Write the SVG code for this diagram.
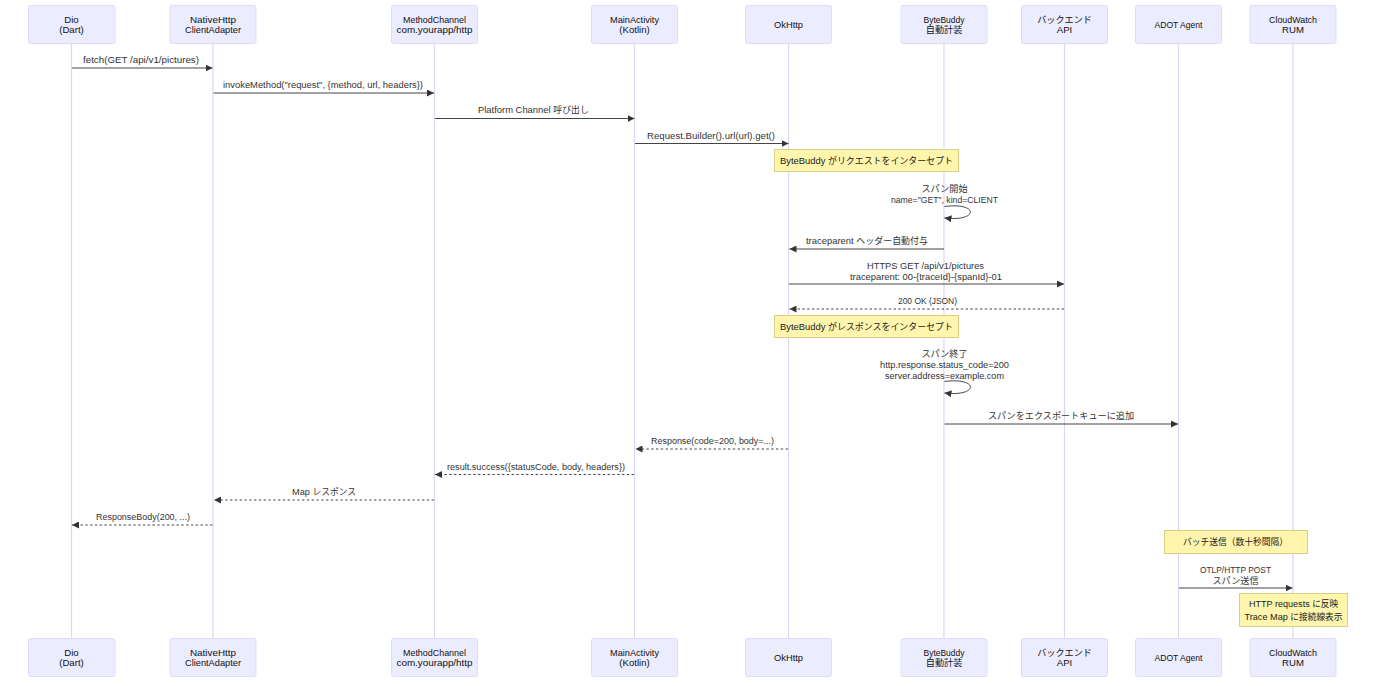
<svg xmlns="http://www.w3.org/2000/svg" width="1384" height="686" viewBox="0 0 1384 686">
<defs>
<marker id="arrow" markerUnits="userSpaceOnUse" markerWidth="8" markerHeight="7" refX="7" refY="3.500" orient="auto"><path d="M0,0L7,3.500L0,7z" fill="#333"/></marker>
</defs>
<style>
text{font-family:"Liberation Sans","Noto Sans CJK JP",sans-serif;font-size:9.6px;text-anchor:middle}
tspan{font-size:9.15px}
.a rect{fill:#ECECFF;stroke:#E0DBF8;stroke-width:1}
.a text{fill:#111}
.l{stroke:#DDD6F7;stroke-width:1.2;fill:none}
.m{stroke:#444;stroke-width:1;fill:none;marker-end:url(#arrow)}
.d{stroke-dasharray:2.4 2.4}
.t{fill:#333}
.n rect{fill:#FFF5AD;stroke:#D6CF85;stroke-width:1}
.n text{fill:#222}
</style>
<g id="lifelines">
<path class="l" d="M71.5 43V638"/><path class="l" d="M213 43V638"/><path class="l" d="M434.500 43V638"/><path class="l" d="M634.500 43V638"/><path class="l" d="M788.500 43V638"/><path class="l" d="M944 43V638"/><path class="l" d="M1064.500 43V638"/><path class="l" d="M1178.500 43V638"/><path class="l" d="M1293 43V638"/>
</g>
<g id="actor-dio" class="a"><rect x="28.500" y="5.500" width="86.500" height="38" rx="2"/><text x="71.500" y="23">Dio</text><text x="71.500" y="33">(Dart)</text></g>
<g id="actor-native" class="a"><rect x="170" y="5.500" width="86" height="38" rx="2"/><text x="213" y="23" textLength="46" lengthAdjust="spacingAndGlyphs">NativeHttp</text><text x="213" y="33" textLength="56" lengthAdjust="spacingAndGlyphs">ClientAdapter</text></g>
<g id="actor-channel" class="a"><rect x="391.500" y="5.500" width="86" height="38" rx="2"/><text x="434.500" y="23" textLength="63" lengthAdjust="spacingAndGlyphs">MethodChannel</text><text x="434.500" y="33" textLength="76" lengthAdjust="spacingAndGlyphs">com.yourapp/http</text></g>
<g id="actor-main" class="a"><rect x="591.500" y="5.500" width="86" height="38" rx="2"/><text x="634.500" y="23" textLength="49" lengthAdjust="spacingAndGlyphs">MainActivity</text><text x="634.500" y="33">(Kotlin)</text></g>
<g id="actor-okhttp" class="a"><rect x="745.500" y="5.500" width="86" height="38" rx="2"/><text x="788.500" y="28" textLength="29" lengthAdjust="spacingAndGlyphs">OkHttp</text></g>
<g id="actor-bytebuddy" class="a"><rect x="901" y="5.500" width="86" height="38" rx="2"/><text x="944" y="23" textLength="41" lengthAdjust="spacingAndGlyphs">ByteBuddy</text><text x="944" y="33"><tspan>自動計装</tspan></text></g>
<g id="actor-backend" class="a"><rect x="1021.500" y="5.500" width="86" height="38" rx="2"/><text x="1064.500" y="23"><tspan>バックエンド</tspan></text><text x="1064.500" y="33">API</text></g>
<g id="actor-adot" class="a"><rect x="1135.500" y="5.500" width="86" height="38" rx="2"/><text x="1178.500" y="28" textLength="48" lengthAdjust="spacingAndGlyphs">ADOT Agent</text></g>
<g id="actor-rum" class="a"><rect x="1250" y="5.500" width="86" height="38" rx="2"/><text x="1293" y="23" textLength="48" lengthAdjust="spacingAndGlyphs">CloudWatch</text><text x="1293" y="33">RUM</text></g>
<g id="connectors">
<path class="m" d="M72 68H212.500"/>
<path class="m" d="M213.500 93H434"/>
<path class="m" d="M435 118.500H634.500"/>
<path class="m" d="M635 143.500H788.500"/>
<path class="m" d="M944.500 206.500C979 202 979 222 944.500 218"/>
<path class="m" d="M944 249H789.500"/>
<path class="m" d="M789 284H1064"/>
<path class="m d" d="M1064 309H789.500"/>
<path class="m" d="M944.500 381.500C979 377 979 397 944.500 393"/>
<path class="m" d="M944.500 424H1178"/>
<path class="m d" d="M788 449H635.500"/>
<path class="m d" d="M634 474.500H435"/>
<path class="m d" d="M434 500H214"/>
<path class="m d" d="M212.500 525H72"/>
<path class="m" d="M1179 588H1292.500"/>
</g>
<g id="message-labels" class="t">
<text x="141" y="63" textLength="116" lengthAdjust="spacingAndGlyphs">fetch(GET /api/v1/pictures)</text>
<text x="323" y="88" textLength="200" lengthAdjust="spacingAndGlyphs">invokeMethod("request", {method, url, headers})</text>
<text x="533.500" y="113" textLength="111" lengthAdjust="spacingAndGlyphs">Platform Channel <tspan>呼び出し</tspan></text>
<text x="711" y="139" textLength="128" lengthAdjust="spacingAndGlyphs">Request.Builder().url(url).get()</text>
<text x="944.500" y="192"><tspan>スパン開始</tspan></text>
<text x="944.500" y="203" textLength="107" lengthAdjust="spacingAndGlyphs">name="GET", kind=CLIENT</text>
<text x="867" y="244" textLength="122" lengthAdjust="spacingAndGlyphs">traceparent <tspan>ヘッダー自動付与</tspan></text>
<text x="925.500" y="269" textLength="117" lengthAdjust="spacingAndGlyphs">HTTPS GET /api/v1/pictures</text>
<text x="926" y="280" textLength="152" lengthAdjust="spacingAndGlyphs">traceparent: 00-{traceId}-{spanId}-01</text>
<text x="927.500" y="304" textLength="59" lengthAdjust="spacingAndGlyphs">200 OK (JSON)</text>
<text x="944.500" y="357"><tspan>スパン終了</tspan></text>
<text x="944.500" y="368" textLength="129" lengthAdjust="spacingAndGlyphs">http.response.status_code=200</text>
<text x="944.500" y="379" textLength="119" lengthAdjust="spacingAndGlyphs">server.address=example.com</text>
<text x="1061" y="419"><tspan>スパンをエクスポートキューに追加</tspan></text>
<text x="712.500" y="444" textLength="123" lengthAdjust="spacingAndGlyphs">Response(code=200, body=...)</text>
<text x="536" y="470" textLength="178" lengthAdjust="spacingAndGlyphs">result.success({statusCode, body, headers})</text>
<text x="324" y="495" textLength="64" lengthAdjust="spacingAndGlyphs">Map <tspan>レスポンス</tspan></text>
<text x="143" y="520" textLength="94" lengthAdjust="spacingAndGlyphs">ResponseBody(200, ...)</text>
<text x="1235.500" y="573" textLength="71" lengthAdjust="spacingAndGlyphs">OTLP/HTTP POST</text>
<text x="1235.500" y="584"><tspan>スパン送信</tspan></text>
</g>
<g id="note-request" class="n"><rect x="774.500" y="149.500" width="184" height="22"/><text x="866.500" y="163.500" textLength="173" lengthAdjust="spacingAndGlyphs">ByteBuddy <tspan>がリクエストをインターセプト</tspan></text></g>
<g id="note-response" class="n"><rect x="774.500" y="315.500" width="184" height="22"/><text x="866.500" y="329.500" textLength="173" lengthAdjust="spacingAndGlyphs">ByteBuddy <tspan>がレスポンスをインターセプト</tspan></text></g>
<g id="note-batch" class="n"><rect x="1164.500" y="530.500" width="143" height="23"/><text x="1235.500" y="545" textLength="105" lengthAdjust="spacingAndGlyphs"><tspan>バッチ送信（数十秒間隔）</tspan></text></g>
<g id="note-rum" class="n"><rect x="1239.500" y="593.500" width="108" height="33"/><text x="1293.500" y="607" textLength="89" lengthAdjust="spacingAndGlyphs">HTTP requests <tspan>に反映</tspan></text><text x="1293.500" y="619.500" textLength="98" lengthAdjust="spacingAndGlyphs">Trace Map <tspan>に接続線表示</tspan></text></g>
<g id="actor-dio-bottom" class="a"><rect x="28.500" y="638.500" width="86.500" height="38" rx="2"/><text x="71.500" y="656">Dio</text><text x="71.500" y="666">(Dart)</text></g>
<g id="actor-native-bottom" class="a"><rect x="170" y="638.500" width="86" height="38" rx="2"/><text x="213" y="656" textLength="46" lengthAdjust="spacingAndGlyphs">NativeHttp</text><text x="213" y="666" textLength="56" lengthAdjust="spacingAndGlyphs">ClientAdapter</text></g>
<g id="actor-channel-bottom" class="a"><rect x="391.500" y="638.500" width="86" height="38" rx="2"/><text x="434.500" y="656" textLength="63" lengthAdjust="spacingAndGlyphs">MethodChannel</text><text x="434.500" y="666" textLength="76" lengthAdjust="spacingAndGlyphs">com.yourapp/http</text></g>
<g id="actor-main-bottom" class="a"><rect x="591.500" y="638.500" width="86" height="38" rx="2"/><text x="634.500" y="656" textLength="49" lengthAdjust="spacingAndGlyphs">MainActivity</text><text x="634.500" y="666">(Kotlin)</text></g>
<g id="actor-okhttp-bottom" class="a"><rect x="745.500" y="638.500" width="86" height="38" rx="2"/><text x="788.500" y="661" textLength="29" lengthAdjust="spacingAndGlyphs">OkHttp</text></g>
<g id="actor-bytebuddy-bottom" class="a"><rect x="901" y="638.500" width="86" height="38" rx="2"/><text x="944" y="656" textLength="41" lengthAdjust="spacingAndGlyphs">ByteBuddy</text><text x="944" y="666"><tspan>自動計装</tspan></text></g>
<g id="actor-backend-bottom" class="a"><rect x="1021.500" y="638.500" width="86" height="38" rx="2"/><text x="1064.500" y="656"><tspan>バックエンド</tspan></text><text x="1064.500" y="666">API</text></g>
<g id="actor-adot-bottom" class="a"><rect x="1135.500" y="638.500" width="86" height="38" rx="2"/><text x="1178.500" y="661" textLength="48" lengthAdjust="spacingAndGlyphs">ADOT Agent</text></g>
<g id="actor-rum-bottom" class="a"><rect x="1250" y="638.500" width="86" height="38" rx="2"/><text x="1293" y="656" textLength="48" lengthAdjust="spacingAndGlyphs">CloudWatch</text><text x="1293" y="666">RUM</text></g>
</svg>
